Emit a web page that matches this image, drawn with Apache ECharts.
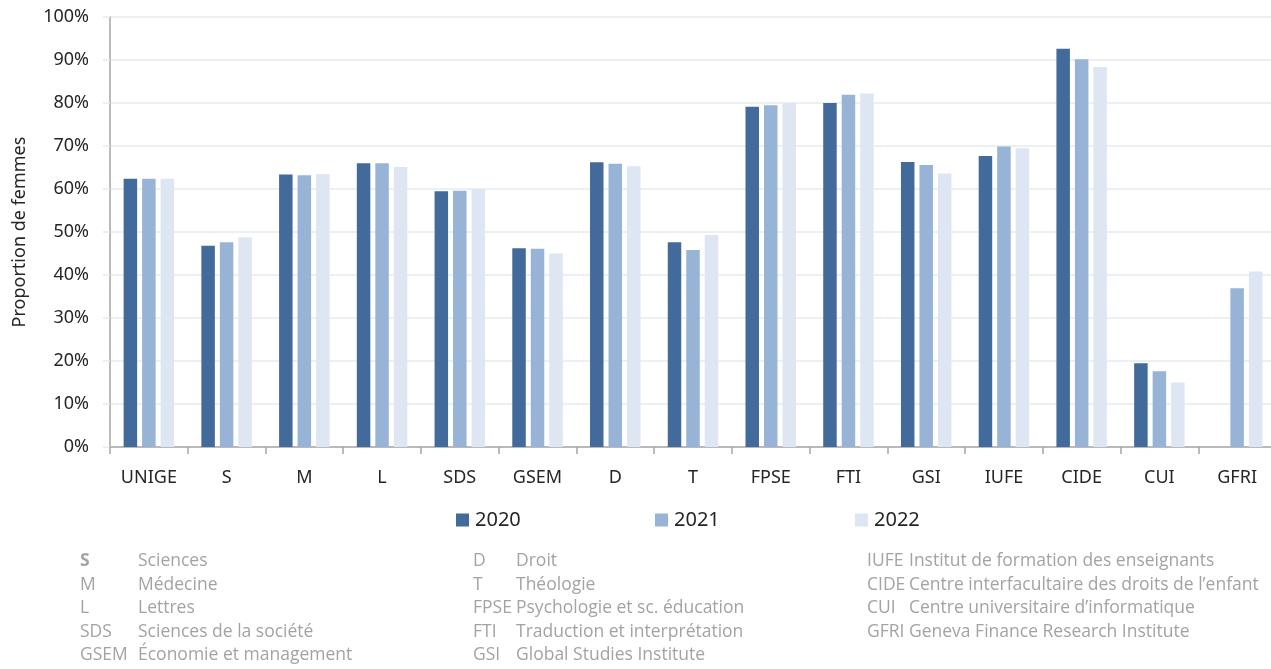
<!DOCTYPE html>
<html>
<head>
<meta charset="utf-8">
<title>Proportion de femmes</title>
<script src="https://cdn.jsdelivr.net/npm/echarts@6/dist/echarts.min.js"></script>
<style>
  html, body { margin: 0; padding: 0; background: #fff; }
  #main { width: 1271px; height: 669px; }
</style>
</head>
<body>
<div id="main"></div>
<script>
// categories (facultés / centres)
const categories = ['UNIGE', 'S', 'M', 'L', 'SDS', 'GSEM', 'D', 'T', 'FPSE', 'FTI', 'GSI', 'IUFE', 'CIDE', 'CUI', 'GFRI'];

// proportion de femmes, en %
const years = ['2020', '2021', '2022'];
const v2020 = [62.4, 46.8, 63.4, 66.0, 59.5, 46.2, 66.2, 47.6, 79.1, 80.0, 66.3, 67.7, 92.6, 19.5, null];
const v2021 = [62.4, 47.6, 63.2, 66.0, 59.6, 46.1, 65.9, 45.8, 79.5, 81.9, 65.6, 69.9, 90.2, 17.6, 36.9];
const v2022 = [62.4, 48.8, 63.5, 65.1, 60.0, 45.0, 65.3, 49.3, 80.0, 82.2, 63.6, 69.5, 88.4, 15.0, 40.8];

// légende des abréviations (3 colonnes)
const glossCol1 = [['S', 'Sciences'], ['M', 'Médecine'], ['L', 'Lettres'], ['SDS', 'Sciences de la société'], ['GSEM', 'Économie et management']];
const glossCol2 = [['D', 'Droit'], ['T', 'Théologie'], ['FPSE', 'Psychologie et sc. éducation'], ['FTI', 'Traduction et interprétation'], ['GSI', 'Global Studies Institute']];
const glossCol3 = [['IUFE', 'Institut de formation des enseignants'], ['CIDE', 'Centre interfacultaire des droits de l’enfant'], ['CUI', 'Centre universitaire d’informatique'], ['GFRI', 'Geneva Finance Research Institute']];

const colors = ['#426b9c', '#97b3d6', '#dde6f2'];
const font = '"Noto Sans", "DejaVu Sans", sans-serif';
const gloss = '"Open Sans", "Noto Sans", sans-serif';

const myChart = echarts.init(document.getElementById('main'));

// glossary text as graphic elements
function glossItems(col, xAbbr, xName) {
    const out = [];
    col.forEach((row, i) => {
        const y = 552 + i * 23.6;
        out.push({
            type: 'text', left: xAbbr, top: y,
            style: { text: row[0], fill: '#a3a3a3', font: (row[0] === 'S' ? 'bold ' : '') + '17.5px ' + gloss }
        });
        out.push({
            type: 'text', left: xName, top: y,
            style: { text: row[1], fill: '#a3a3a3', font: '17.5px ' + gloss }
        });
    });
    return out;
}

const legendLeft = [451, 650, 850];

const option = {
    animation: false,
    grid: {
        left: 110,
        top: 17,
        width: 1166,
        height: 430,
        containLabel: false,
        outerBoundsMode: 'none'
    },
    legend: years.map((y, i) => ({
        data: [y],
        left: legendLeft[i],
        top: 505,
        icon: 'rect',
        itemWidth: 13,
        itemHeight: 13,
        itemGap: 0,
        selectedMode: false,
        textStyle: { fontFamily: font, fontSize: 20, color: '#262626', padding: [0, 0, 0, 1] }
    })),
    xAxis: {
        type: 'category',
        data: categories,
        axisLine: { lineStyle: { color: '#a6a6a6', width: 1.5 } },
        axisTick: { show: true, length: 7, lineStyle: { color: '#a6a6a6', width: 1.5 } },
        axisLabel: { fontFamily: font, fontSize: 18, color: '#262626', margin: 22 },
        splitLine: { show: false }
    },
    yAxis: {
        type: 'value',
        min: 0,
        max: 100,
        interval: 10,
        name: 'Proportion de femmes',
        nameLocation: 'middle',
        nameGap: 81,
        nameTextStyle: { fontFamily: font, fontSize: 18, color: '#262626' },
        axisLine: { show: true, lineStyle: { color: '#a6a6a6', width: 1.5 } },
        axisTick: { show: true, length: 7, lineStyle: { color: '#e6ebf2', width: 1.5 } },
        axisLabel: { fontFamily: font, fontSize: 18, color: '#262626', margin: 21, formatter: '{value}%' },
        splitLine: { lineStyle: { color: '#e6ebf2', width: 1.5 } }
    },
    series: [v2020, v2021, v2022].map((d, i) => ({
        name: years[i],
        type: 'bar',
        data: d,
        barWidth: 13.5,
        barGap: '37%',
        itemStyle: { color: colors[i] }
    })),
    graphic: [].concat(
        glossItems(glossCol1, 80, 138),
        glossItems(glossCol2, 473, 516),
        glossItems(glossCol3, 867, 909)
    )
};

myChart.setOption(option);
</script>
</body>
</html>
